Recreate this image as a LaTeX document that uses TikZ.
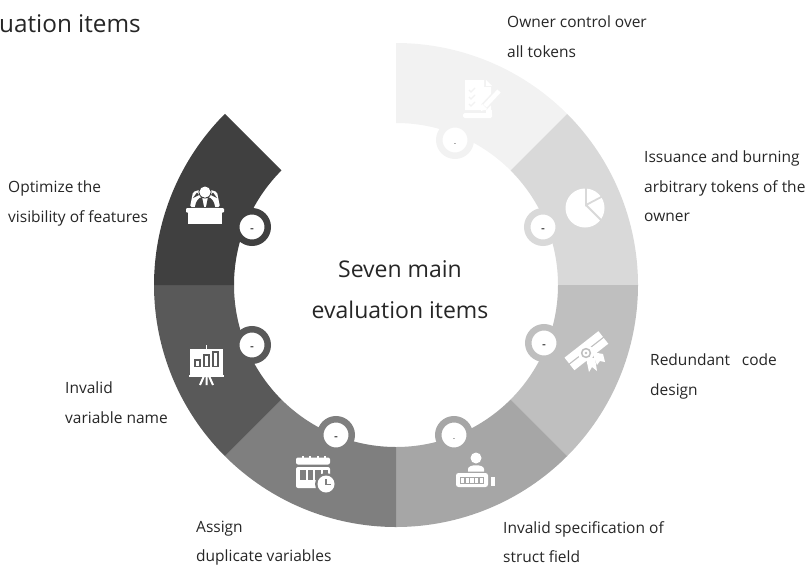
\documentclass[tikz,border=0pt]{standalone}
\usepackage{fontspec}
\setmainfont{Open Sans}
\usetikzlibrary{positioning}
\definecolor{segA}{HTML}{F2F2F2}
\definecolor{segB}{HTML}{D9D9D9}
\definecolor{segC}{HTML}{BFBFBF}
\definecolor{segD}{HTML}{A6A6A6}
\definecolor{segE}{HTML}{7F7F7F}
\definecolor{segF}{HTML}{595959}
\definecolor{segG}{HTML}{404040}
\definecolor{inkT}{HTML}{262626}
\tikzset{
  itemlabel/.style={anchor=north west,inner sep=0pt,align=left,text=inkT,
    font=\fontsize{15.5}{29.2}\selectfont},
  hublabel/.style={inner sep=0pt,align=center,text=inkT,
    font=\fontsize{23}{41}\selectfont},
  ringdot/.style={circle,draw=#1,fill=white,line width=6.5pt,inner sep=0pt,
    minimum size=31.5pt,text=black,text height=10pt,text depth=0pt,
    font=\fontsize{12}{12}\selectfont}
}
\begin{document}
\begin{tikzpicture}[x=1pt,y=-1pt]
   \useasboundingbox (0,0) rectangle (808,565);
   \coordinate (hub) at (396,285);
   \foreach \a/\c in {90/segA,45/segB,0/segC,-45/segD,-90/segE,-135/segF,-180/segG}
     \fill[\c] ([shift={(\a:242pt)}]hub) arc[start angle=\a,end angle=\a-45,radius=242pt]
        -- ([shift={(\a-45:162pt)}]hub) arc[start angle=\a-45,end angle=\a,radius=162pt] -- cycle;

   \node[ringdot=segA,font=\fontsize{6}{6}\selectfont] (dot_a) at (455,140) {-};
   \node[ringdot=segB] (dot_b) at (543,227) {-};
   \node[ringdot=segC] (dot_c) at (544,343) {-};
   \node[ringdot=segD,font=\fontsize{6}{6}\selectfont] (dot_d) at (454,435) {-};
   \node[ringdot=segE] (dot_e) at (336,435) {-};
   \node[ringdot=segF] (dot_f) at (252,345) {-};
   \node[ringdot=segG] (dot_g) at (252,227) {-};

   % checklist
   \fill[white] (465,80) -- (484,80) -- (484,87) -- (491,87) -- (491,110) -- (465,110) -- cycle;
   \fill[white] (486,80) -- (492,86) -- (486,86) -- cycle;
   \fill[white,rounded corners=1.5pt] (463,113) rectangle (492,118);
   \fill[white] (486,110) rectangle (492,117);
   \draw[segA,line width=1.3pt] (469,90) -- (471,92) -- (475,88) (469,97) -- (471,99) -- (475,95)
      (469,104) -- (471,106) -- (475,102);
   \draw[segA,line width=7.5pt] (500,90) -- (484,107);
   \draw[white,line width=4.5pt] (499,91) -- (485,106);
   \fill[white] (481,111) -- (482,104) -- (487,109) -- cycle;

   % pie chart
   \fill[white] (585,208) circle (19.5);
   \draw[segB,line width=1.8pt] (586,187) -- (586,205) -- (605,195) (586,205) -- (603,222);

   % diploma
   \fill[white,rotate around={38:(586,351)}] (565,343) rectangle (608,350.3);
   \fill[white,rotate around={38:(586,351)}] (565,351.7) rectangle (608,359);
   \fill[white] (592,352) -- (603,354) -- (605,362) -- (600,361) -- (597,365) -- cycle;
   \fill[white] (586,358) -- (595,358) -- (597,371) -- (592,367) -- (589,372) -- cycle;
   \fill[white] (586,353) circle (8);
   \fill[segC] (586,353) circle (5.2);
   \fill[white] (586,353) circle (3.4);
   \fill[segC] (586,353) circle (1.4);

   % speaker at desk
   \fill[white,rounded corners=1.5pt] (190,207) -- (193,192) -- (199,190) -- (211,190) -- (217,192) -- (220,207) -- cycle;
   \fill[segG] (195,207) .. controls (196,200) and (199,198) .. (202,197) -- (204,207) -- cycle;
   \fill[segG] (215,207) .. controls (214,200) and (211,198) .. (208,197) -- (206,207) -- cycle;
   \fill[segG] (193,198) -- (197,192.5) -- (199,195) -- cycle;
   \fill[segG] (217,198) -- (213,192.5) -- (211,195) -- cycle;
   \draw[segG,line width=1pt] (205,192) circle (6);
   \fill[white] (205,192) circle (5.5);
   \fill[white,rounded corners=1pt] (186,208) rectangle (224,212.5);
   \fill[white] (188,212) rectangle (222,224);

   % presentation board
   \fill[white] (190,349) rectangle (223,375);
   \fill[white] (189,375) rectangle (224,376.5);
   \fill[white] (205.5,345) rectangle (207,349);
   \foreach \x/\t in {195/360,204/355,213/352}
     \draw[segF,line width=1.4pt] (\x,\t) rectangle (\x+5,366.5);
   \draw[white,line width=2pt] (204,376) -- (200,385) (206.5,376) -- (206.5,385) (209,376) -- (213,385);

   % calendar
   \fill[white,rounded corners=2pt] (296,457.5) rectangle (330,464.5);
   \foreach \x in {302,309,317,324} \fill[white] (\x,455.5) rectangle (\x+1.5,459);
   \fill[white,rounded corners=2pt] (296,467) rectangle (330,488);
   \foreach \x in {300,307.5,315,322.5} \foreach \t in {470,475,480}
     \fill[segE] (\x,\t) rectangle (\x+5.5,473);
   \fill[segE] (326,484) circle (11);
   \fill[white] (326,484) circle (8.5);
   \draw[segE,line width=1.2pt] (326,479) -- (326,484.5) -- (331,484.5);

   % person and counter
   \fill[white] (476,458) circle (5.5);
   \fill[white] (468,471.5) -- (468,469) .. controls (468,464) and (484,464) .. (484,469) -- (484,471.5) -- cycle;
   \fill[white,rounded corners=2.5pt] (456,473) rectangle (488,487);
   \fill[segD] (460,477) rectangle (484,484);
   \foreach \x in {461,465.7,470.4,475.1,479.8} \fill[white] (\x,478.2) rectangle (\x+3.2,482.8);
   \fill[white] (491,477) rectangle (495,486);

   \node[hublabel] (hub_text) at (400,290) {Seven main\\evaluation items};
   \node[inner sep=0pt,anchor=east,text=inkT,font=\fontsize{24.3}{25}\selectfont] (title) at (141,24) {uation items};

   \node[itemlabel] (item_a) at (507,16) {Owner control over\\all tokens};
   \node[itemlabel] (item_b) at (644,151) {Issuance and burning\\arbitrary tokens of the\\owner};
   \node[itemlabel] (item_c) at (650,354) {Redundant\hspace{0.5em} code\\design};
   \node[itemlabel] (item_d) at (503,521) {Invalid specification of\\struct field};
   \node[itemlabel] (item_e) at (196,521) {Assign\\duplicate variables};
   \node[itemlabel] (item_f) at (65,382) {Invalid\\variable name};
   \node[itemlabel] (item_g) at (8,181) {Optimize the\\visibility of features};
\end{tikzpicture}
\end{document}
